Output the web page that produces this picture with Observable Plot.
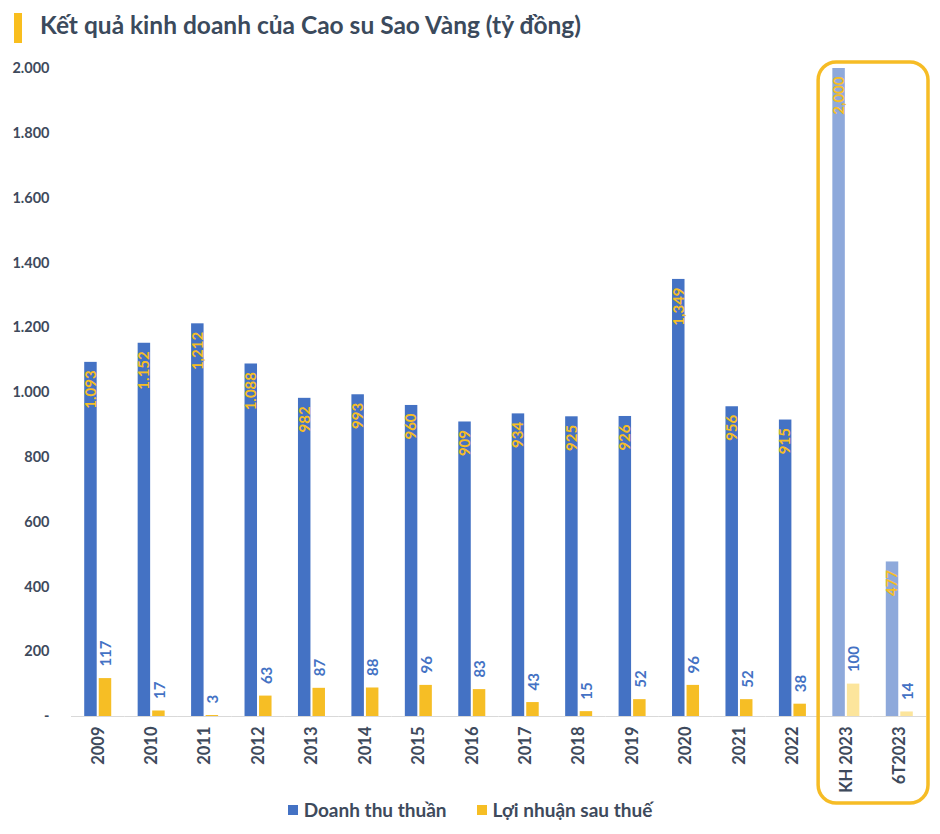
<!DOCTYPE html>
<html>
<head>
<meta charset="utf-8">
<script src="https://cdn.jsdelivr.net/npm/d3@7"></script>
<script src="https://cdn.jsdelivr.net/npm/@observablehq/plot@0.6"></script>
<style>
  body { margin: 0; background: #fff; width: 940px; height: 834px; overflow: hidden; font-family: Lato, "Noto Sans", sans-serif; }
  #title { position: relative; height: 55px; }
  #title .bar { position: absolute; left: 14px; top: 13px; width: 8px; height: 30px; background: #F9BE1E; }
  #title .txt { position: absolute; left: 40px; top: 10px; font-size: 24.5px; font-weight: 700; color: #3B4A5C; white-space: nowrap; }
  #legend { display: flex; justify-content: center; gap: 30px; margin-top: -12px; font-size: 19px; font-weight: 700; color: #3E4A5C; }
  #legend span.sw { display: inline-block; width: 10px; height: 10px; margin-right: 6px; }
  #legend div { display: flex; align-items: center; }
</style>
</head>
<body>
<div id="title"><div class="bar"></div><div class="txt">Kết quả kinh doanh của Cao su Sao Vàng (tỷ đồng)</div></div>
<div id="chart"></div>
<div id="legend">
  <div><span class="sw" style="background:#4472C4"></span>Doanh thu thuần</div>
  <div><span class="sw" style="background:#F6BE25"></span>Lợi nhuận sau thuế</div>
</div>
<script>
const categories = ["2009","2010","2011","2012","2013","2014","2015","2016","2017","2018","2019","2020","2021","2022","KH 2023","6T2023"];
const revenue = [1093,1152,1212,1088,982,993,960,909,934,925,926,1349,956,915,2000,477];
const profit = [117,17,3,63,87,88,96,83,43,15,52,96,52,38,100,14];
const revenueLabels = ["1.093","1.152","1,212","1.088","982","993","960","909","934","925","926","1,349","956","915","2,000","477"];
const profitLabels = ["117","17","3","63","87","88","96","83","43","15","52","96","52","38","100","14"];
const planCategories = ["KH 2023","6T2023"];
const yTicks = [0,200,400,600,800,1000,1200,1400,1600,1800,2000];

const rev = categories.map((c,i) => ({cat: c, series: "rev", value: revenue[i], label: revenueLabels[i], plan: planCategories.includes(c)}));
const pro = categories.map((c,i) => ({cat: c, series: "pro", value: profit[i], label: profitLabels[i], plan: planCategories.includes(c)}));

const font = "Lato, 'Noto Sans', sans-serif";
const plot = Plot.plot({
  width: 940, height: 755,
  marginLeft: 71, marginRight: 14, marginTop: 13, marginBottom: 94,
  style: {fontFamily: font, color: "#3E4A5C", background: "transparent"},
  fx: {domain: categories, padding: 0, round: false, label: null},
  x: {domain: ["rev","pro"], paddingInner: 0.14, paddingOuter: 0.91, round: false, axis: null},
  y: {domain: [0, 2000], label: null},
  marks: [
    Plot.axisY({ticks: yTicks, tickSize: 0, tickPadding: 22, fontSize: 14.5, fontWeight: "bold", label: null,
      tickFormat: d => d === 0 ? "-" : d3.format(",")(d).replace(/,/g, ".")}),
    Plot.axisFx({anchor: "bottom", tickRotate: -90, tickSize: 0, tickPadding: 10, fontSize: 16.5, fontWeight: "bold", label: null}),
    Plot.barY(rev, {fx: "cat", x: "series", y: "value", fill: d => d.plan ? "#8EA9DB" : "#4472C4"}),
    Plot.barY(pro, {fx: "cat", x: "series", y: "value", fill: d => d.plan ? "#FCE59C" : "#F6BE25"}),
    Plot.ruleY([0], {stroke: "#D9D9D9", strokeWidth: 1.2}),
    Plot.text(rev, {fx: "cat", x: "series", y: "value", text: "label", rotate: -90, textAnchor: "end", dy: 8,
      fill: "#F6BE25", fontWeight: "bold", fontSize: 15}),
    Plot.text(pro, {fx: "cat", x: "series", y: "value", text: "label", rotate: -90, textAnchor: "start", dy: -12, dx: 1,
      fill: "#4472C4", fontWeight: "bold", fontSize: 15})
  ]
});
document.getElementById("chart").appendChild(plot);

// highlight box around the plan categories
const fxs = plot.scale("fx");
const x1 = fxs.apply(planCategories[0]);
const x2 = fxs.apply(planCategories[1]) + fxs.bandwidth;
d3.select(plot).append("rect")
  .attr("x", x1 - 1).attr("width", x2 - x1 + 3)
  .attr("y", 7).attr("height", 741)
  .attr("rx", 18).attr("ry", 18)
  .attr("fill", "none").attr("stroke", "#F6BC25").attr("stroke-width", 3.5);
</script>
</body>
</html>
